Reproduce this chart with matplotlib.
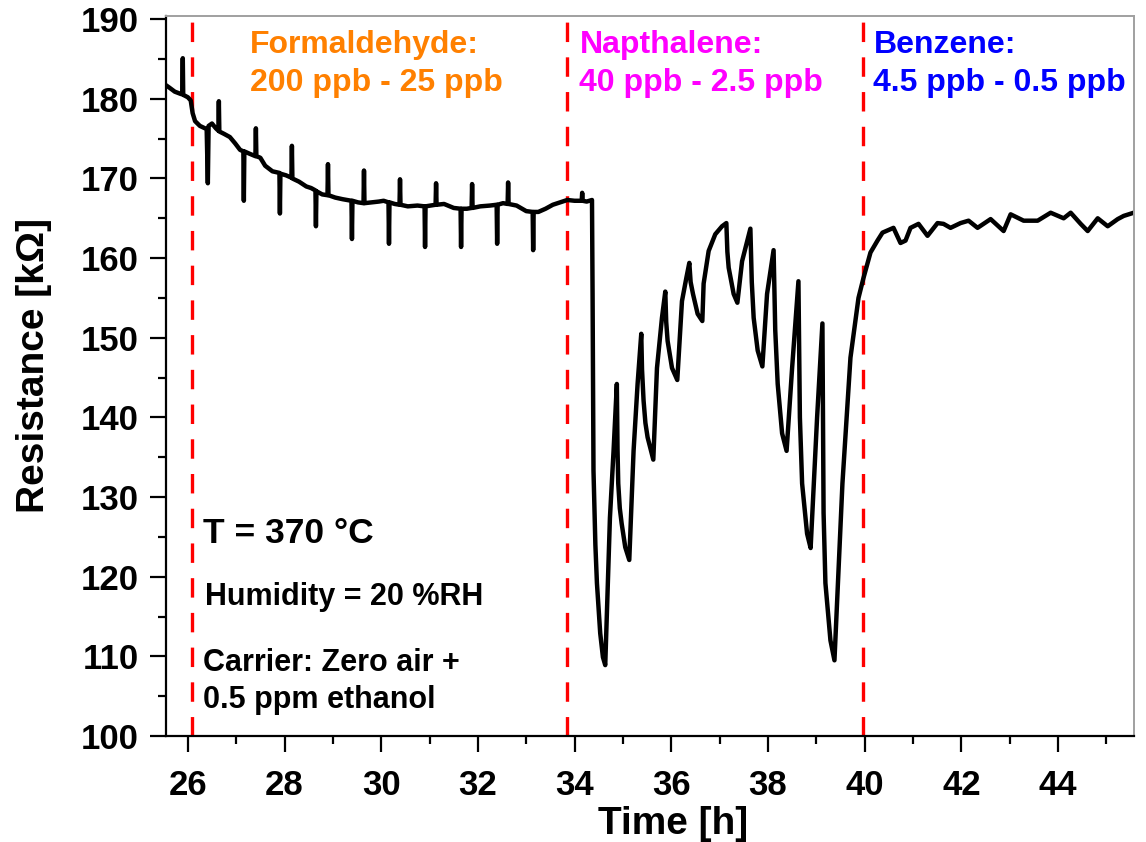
import matplotlib
matplotlib.use("Agg")
import matplotlib.pyplot as plt
import numpy as np

plt.rcParams['font.family'] = ['Liberation Sans', 'DejaVu Sans']
plt.rcParams['font.weight'] = 'bold'
plt.rcParams['lines.scale_dashes'] = False

# --- Formaldehyde exposure (baseline drift with injection spikes) ---
t_formaldehyde = [
    25.55, 25.62, 25.73, 25.86, 25.885, 25.896, 25.905, 26.00, 26.06, 26.10,
    26.15, 26.25, 26.39, 26.414, 26.43, 26.50, 26.58, 26.632, 26.642, 26.652,
    26.75, 26.87, 26.98, 27.08, 27.149, 27.159, 27.169, 27.28, 27.398, 27.408,
    27.418, 27.50, 27.60, 27.75, 27.895, 27.905, 27.915, 28.03, 28.143, 28.153,
    28.163, 28.30, 28.45, 28.55, 28.640, 28.650, 28.660, 28.78, 28.889, 28.899,
    28.909, 29.05, 29.20, 29.385, 29.395, 29.405, 29.52, 29.634, 29.644, 29.654,
    29.80, 29.95, 30.05, 30.151, 30.161, 30.171, 30.28, 30.379, 30.389, 30.399,
    30.55, 30.75, 30.897, 30.907, 30.917, 31.02, 31.125, 31.135, 31.145, 31.30,
    31.50, 31.642, 31.652, 31.662, 31.77, 31.870, 31.880, 31.890, 32.05, 32.25,
    32.388, 32.398, 32.408, 32.52, 32.615, 32.625, 32.635, 32.80, 33.00, 33.133,
    33.143, 33.153, 33.25, 33.40, 33.55, 33.70, 33.85, 34.00, 34.147, 34.157,
    34.167, 34.25, 34.36,
]
r_formaldehyde = [
    181.7, 181.4, 180.9, 180.6, 180.6, 185.1, 180.5, 180.2, 179.8, 178.2,
    177.2, 176.6, 176.2, 169.4, 176.6, 176.9, 176.3, 176.0, 179.7, 175.9,
    175.6, 175.2, 174.4, 173.6, 173.4, 167.2, 173.4, 173.1, 172.8, 176.3,
    172.8, 172.6, 171.6, 170.9, 170.7, 165.6, 170.6, 170.4, 170.1, 174.1,
    170.0, 169.6, 169.0, 168.8, 168.5, 164.0, 168.4, 168.0, 167.9, 171.8,
    167.9, 167.6, 167.4, 167.2, 162.4, 167.2, 167.0, 166.9, 171.0, 166.9,
    167.0, 167.1, 167.2, 167.0, 161.8, 167.0, 166.8, 166.7, 169.9, 166.7,
    166.5, 166.6, 166.5, 161.4, 166.5, 166.6, 166.7, 169.4, 166.7, 166.8,
    166.3, 166.2, 161.4, 166.2, 166.2, 166.3, 169.3, 166.3, 166.5, 166.6,
    166.7, 161.8, 166.7, 166.9, 166.8, 169.5, 166.8, 166.6, 165.9, 165.8,
    161.0, 165.8, 165.8, 166.2, 166.7, 167.0, 167.3, 167.2, 167.2, 168.2,
    167.2, 167.1, 167.3,
]

# --- Napthalene exposure (response / recovery cycles) ---
t_napthalene = [
    34.372, 34.391, 34.430, 34.462, 34.530, 34.586, 34.634, 34.731, 34.806, 34.874,
    34.888, 34.903, 34.935, 34.973, 35.048, 35.131, 35.220, 35.303, 35.379, 35.395,
    35.427, 35.465, 35.510, 35.628, 35.704, 35.807, 35.876, 35.895, 35.924, 36.015,
    36.124, 36.221, 36.311, 36.373, 36.400, 36.449, 36.545, 36.642, 36.669, 36.773,
    36.876, 36.910, 37.050, 37.139, 37.160, 37.187, 37.290, 37.367, 37.464, 37.636,
    37.665, 37.704, 37.787, 37.884, 37.981, 38.116, 38.150, 38.201, 38.292, 38.385,
    38.499, 38.630, 38.660, 38.706, 38.809, 38.882, 39.016, 39.126, 39.150, 39.188,
    39.292, 39.375, 39.540, 39.706, 39.872,
]
r_napthalene = [
    155.5, 133.3, 124.0, 119.2, 112.9, 109.9, 108.9, 127.4, 135.8, 144.2,
    136.0, 131.7, 128.6, 126.7, 123.7, 122.1, 135.8, 144.2, 150.5, 146.0,
    142.1, 139.3, 137.5, 134.7, 146.2, 152.5, 155.8, 152.0, 149.6, 146.2,
    144.7, 154.6, 157.5, 159.4, 157.0, 155.5, 153.0, 152.1, 156.8, 160.9,
    162.5, 163.0, 164.0, 164.4, 160.8, 158.8, 155.5, 154.4, 159.6, 163.7,
    157.0, 152.5, 148.4, 146.4, 155.5, 161.0, 151.0, 144.2, 138.0, 135.8,
    146.2, 157.1, 140.0, 131.7, 125.4, 123.6, 140.0, 151.8, 128.0, 119.2,
    112.0, 109.5, 131.7, 147.5, 155.0,
]

# --- Benzene exposure (recovery and noisy plateau) ---
t_benzene = [
    39.975, 40.120, 40.265, 40.369, 40.596, 40.741, 40.845, 40.948, 41.114, 41.300,
    41.507, 41.631, 41.776, 41.983, 42.149, 42.335, 42.605, 42.874, 43.019, 43.288,
    43.578, 43.847, 44.116, 44.261, 44.468, 44.613, 44.820, 45.027, 45.234, 45.358,
    45.565,
]
r_benzene = [
    157.5, 160.7, 162.2, 163.2, 163.8, 161.9, 162.2, 163.8, 164.3, 162.8,
    164.4, 164.3, 163.8, 164.4, 164.7, 163.8, 164.9, 163.4, 165.5, 164.7,
    164.7, 165.7, 165.0, 165.7, 164.3, 163.4, 165.0, 164.0, 164.9, 165.3,
    165.7,
]

# Gas switching times [h]
switch_times = [26.09, 33.84, 39.97]

gas_names = ["Formaldehyde:", "Napthalene:", "Benzene:"]
gas_ranges = ["200 ppb - 25 ppb", "40 ppb - 2.5 ppb", "4.5 ppb - 0.5 ppb"]
gas_colors = ["#FF8000", "#FF00FF", "#0000FF"]
gas_label_x = [27.28, 34.10, 40.18]

x_ticks = [26, 28, 30, 32, 34, 36, 38, 40, 42, 44]
y_ticks = [100, 110, 120, 130, 140, 150, 160, 170, 180, 190]

time_h = np.concatenate([t_formaldehyde, t_napthalene, t_benzene])
resistance = np.concatenate([r_formaldehyde, r_napthalene, r_benzene])

fig = plt.figure(figsize=(11.46, 8.42), dpi=100)
ax = fig.add_axes([0.1449, 0.1259, 0.8446, 0.8551])

ax.plot(time_h, resistance, color="black", lw=3.2, solid_joinstyle="round")

for ts in switch_times:
    ax.axvline(ts, color="#FF0000", lw=2.4, linestyle=(0, (14, 11)), zorder=1)

ax.set_xlim(25.55, 45.57)
ax.set_ylim(100, 190.4)
ax.set_xticks(x_ticks)
ax.set_yticks(y_ticks)
ax.set_xticks(np.arange(27, 46, 2), minor=True)
ax.set_yticks(np.arange(105, 190, 10), minor=True)

ax.tick_params(axis="both", which="major", direction="out", length=11.5, width=1.6,
               labelsize=25)
ax.tick_params(axis="x", which="major", pad=12)
ax.tick_params(axis="y", which="major", pad=8)
ax.tick_params(axis="both", which="minor", direction="out", length=6, width=1.6)
ax.tick_params(top=False, right=False)
for lab in ax.get_xticklabels() + ax.get_yticklabels():
    lab.set_fontweight("bold")

for side in ["left", "bottom"]:
    ax.spines[side].set_linewidth(1.6)
    ax.spines[side].set_color("black")
for side in ["top", "right"]:
    ax.spines[side].set_linewidth(1.4)
    ax.spines[side].set_color("#A0A0A0")

ax.set_xlabel("Time [h]", fontsize=28, fontweight="bold")
ax.set_ylabel("Resistance [k\u03A9]", fontsize=28, fontweight="bold")
ax.xaxis.set_label_coords(0.524, -0.097)
ax.yaxis.set_label_coords(-0.118, 0.515)

for name, rng, col, xl in zip(gas_names, gas_ranges, gas_colors, gas_label_x):
    ax.text(xl, 185.8, name, color=col, fontsize=23, fontweight="bold", va="baseline")
    ax.text(xl, 181.0, rng, color=col, fontsize=23, fontweight="bold", va="baseline")

ax.text(26.31, 124.2, "T = 370 \u00B0C", fontsize=25.5, fontweight="bold", va="baseline")
ax.text(26.35, 116.4, "Humidity = 20 %RH", fontsize=22, fontweight="bold", va="baseline")
ax.text(26.31, 108.1, "Carrier: Zero air +", fontsize=22, fontweight="bold", va="baseline")
ax.text(26.31, 103.5, "0.5 ppm ethanol", fontsize=22, fontweight="bold", va="baseline")

fig.savefig("out.png", dpi=100)
